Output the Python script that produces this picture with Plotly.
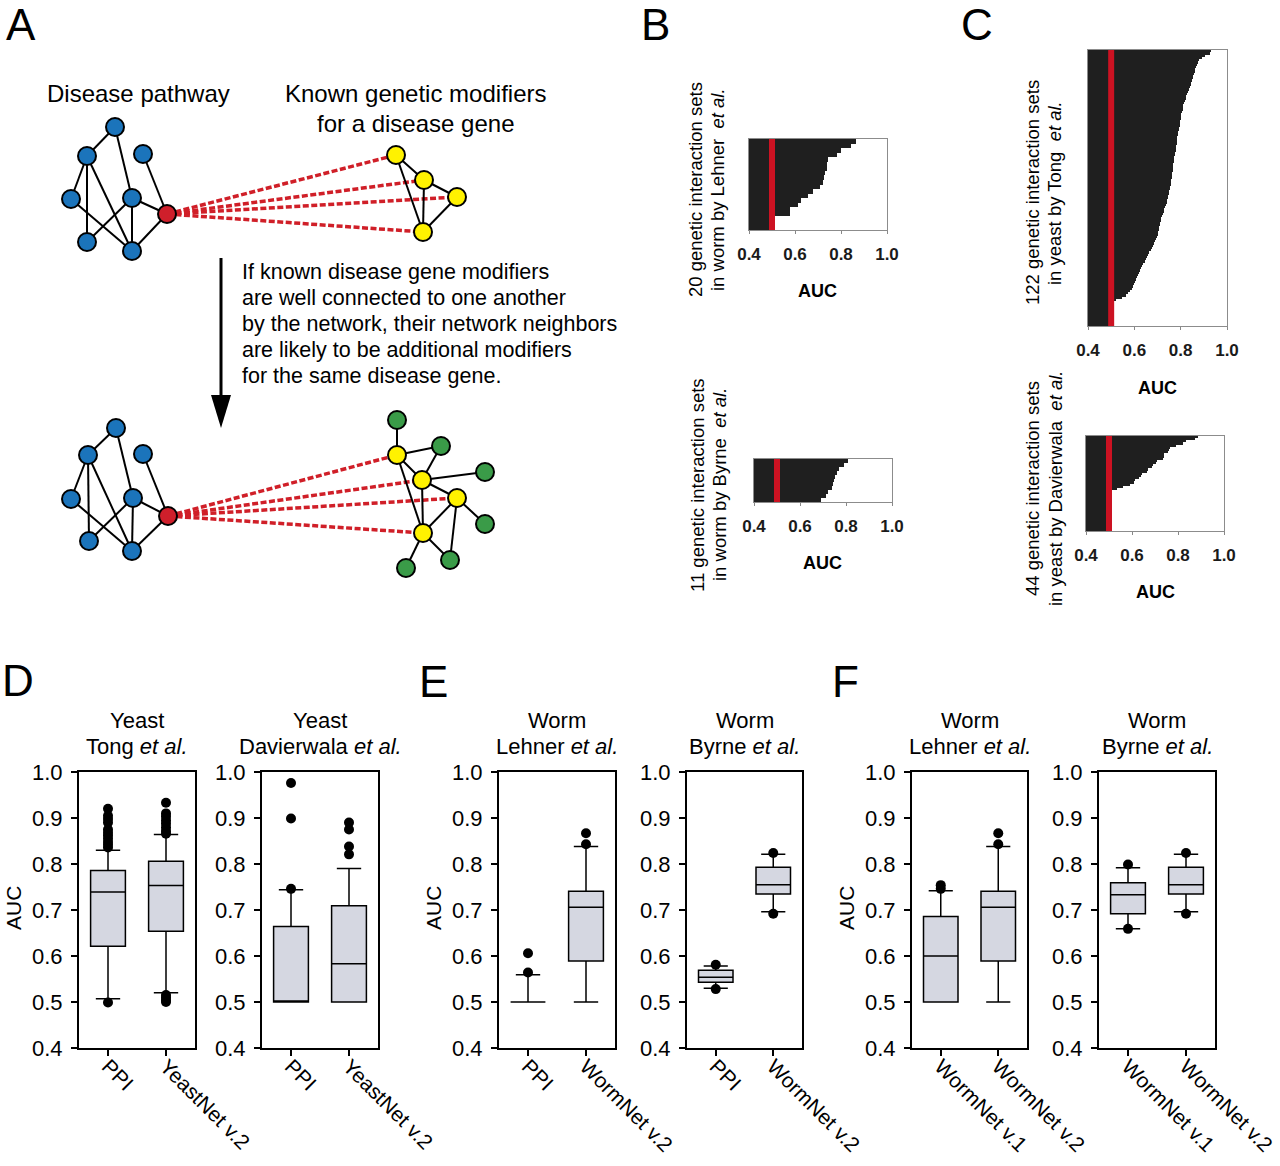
import plotly.graph_objects as go

FONT = "Liberation Sans, Arial, sans-serif"
W, H = 1280, 1166

# ---------------- Panel A: network diagram (node positions, px) ----------------
blue_top_x = [115, 87, 143, 71, 132, 87, 132]
blue_top_y = [127, 156, 154, 199, 198, 242, 251]
red_top_xy = [167, 214]
yellow_top_x = [396, 424, 457, 423]
yellow_top_y = [155, 180, 197, 232]

blue_bot_x = [116, 88, 143, 71, 133, 89, 132]
blue_bot_y = [428, 455, 454, 499, 498, 541, 551]
red_bot_xy = [168, 516]
yellow_bot_x = [397, 422, 457, 423]
yellow_bot_y = [455, 480, 498, 533]
green_bot_x = [397, 441, 485, 485, 450, 406]
green_bot_y = [420, 446, 472, 524, 560, 568]

pathway_edges = [("B0", "B1"), ("B0", "B4"), ("B2", "R"), ("B1", "B3"), ("B1", "B5"),
                 ("B1", "B6"), ("B3", "B6"), ("B4", "B5"), ("B4", "B6"), ("B4", "R"), ("B6", "R")]
modifier_edges_top = [("Y0", "Y1"), ("Y0", "Y3"), ("Y1", "Y2"), ("Y1", "Y3"), ("Y2", "Y3")]
modifier_edges_bot = [("Y0", "G0"), ("Y0", "G1"), ("Y0", "Y1"), ("Y0", "Y3"), ("Y1", "G1"),
                      ("Y1", "G2"), ("Y1", "Y2"), ("Y1", "Y3"), ("Y2", "Y3"), ("Y2", "G3"),
                      ("Y2", "G4"), ("Y3", "G4"), ("Y3", "G5")]

title_pathway = "Disease pathway"
title_modifiers = ["Known genetic modifiers", "for a disease gene"]
hypothesis_lines = ["If known disease gene modifiers",
                    "are well connected to one another",
                    "by the network, their network neighbors",
                    "are likely to be additional modifiers",
                    "for the same disease gene."]

# ---------------- Panels B, C: sorted AUC per interaction set ----------------
lehner_auc = [0.867, 0.845, 0.800, 0.784, 0.742, 0.741, 0.740, 0.730, 0.725, 0.720,
              0.707, 0.680, 0.656, 0.628, 0.613, 0.580, 0.578, 0.500, 0.500, 0.500]
byrne_auc = [0.809, 0.792, 0.769, 0.759, 0.752, 0.747, 0.744, 0.737, 0.722, 0.711, 0.690]
tong_auc = [0.930, 0.925, 0.905, 0.890, 0.880, 0.875, 0.870, 0.867, 0.864, 0.861,
            0.858, 0.855, 0.852, 0.849, 0.846, 0.843, 0.840, 0.836, 0.833, 0.829,
            0.825, 0.821, 0.818, 0.815, 0.812, 0.810, 0.808, 0.805, 0.803, 0.801,
            0.800, 0.798, 0.796, 0.795, 0.793, 0.791, 0.789, 0.788, 0.786, 0.785,
            0.783, 0.782, 0.781, 0.779, 0.778, 0.776, 0.775, 0.773, 0.772, 0.770,
            0.769, 0.767, 0.766, 0.765, 0.763, 0.762, 0.761, 0.759, 0.758, 0.757,
            0.755, 0.753, 0.751, 0.749, 0.747, 0.745, 0.742, 0.739, 0.736, 0.733,
            0.730, 0.727, 0.724, 0.720, 0.717, 0.715, 0.712, 0.710, 0.707, 0.705,
            0.702, 0.700, 0.697, 0.692, 0.688, 0.684, 0.680, 0.675, 0.670, 0.665,
            0.660, 0.655, 0.650, 0.645, 0.638, 0.633, 0.628, 0.625, 0.621, 0.617,
            0.612, 0.608, 0.604, 0.600, 0.595, 0.588, 0.580, 0.572, 0.565, 0.545,
            0.520, 0.500, 0.500, 0.500, 0.500, 0.500, 0.500, 0.500, 0.500, 0.500,
            0.500, 0.500]
davierwala_auc = [0.888, 0.873, 0.835, 0.820, 0.790, 0.765, 0.760, 0.758, 0.740, 0.738,
                  0.735, 0.710, 0.705, 0.690, 0.685, 0.670, 0.665, 0.645, 0.640, 0.630,
                  0.615, 0.610, 0.590, 0.560, 0.535, 0.500, 0.500, 0.500, 0.500, 0.500,
                  0.500, 0.500, 0.500, 0.500, 0.500, 0.500, 0.500, 0.500, 0.500, 0.500,
                  0.500, 0.500, 0.500, 0.500]
auc_ticks = [0.4, 0.6, 0.8, 1.0]
random_auc = 0.5

# ---------------- Panels D, E, F: box-plot statistics ----------------
# D: yeast, Tong et al.
tong_cats = ["PPI", "YeastNet v.2"]
tong_q1 = [0.621, 0.654]
tong_med = [0.739, 0.753]
tong_q3 = [0.786, 0.806]
tong_lo = [0.507, 0.520]
tong_hi = [0.830, 0.864]
tong_out_ppi = [0.920, 0.905, 0.898, 0.890, 0.875, 0.868, 0.862, 0.855, 0.848, 0.842, 0.836, 0.499]
tong_out_yn = [0.933, 0.910, 0.903, 0.895, 0.888, 0.880, 0.872, 0.866, 0.515, 0.510, 0.504, 0.500]
# D: yeast, Davierwala et al.
davi_cats = ["PPI", "YeastNet v.2"]
davi_q1 = [0.500, 0.500]
davi_med = [0.500, 0.583]
davi_q3 = [0.664, 0.709]
davi_lo = [0.500, 0.500]
davi_hi = [0.744, 0.790]
davi_out_ppi = [0.976, 0.899, 0.746]
davi_out_yn = [0.890, 0.875, 0.838, 0.821]
# E: worm, Lehner et al.
lehE_cats = ["PPI", "WormNet v.2"]
lehE_q1 = [0.500, 0.589]
lehE_med = [0.500, 0.706]
lehE_q3 = [0.500, 0.741]
lehE_lo = [0.500, 0.500]
lehE_hi = [0.559, 0.838]
lehE_out_ppi = [0.606, 0.564]
lehE_out_wn = [0.867, 0.843]
# E: worm, Byrne et al.
byrE_cats = ["PPI", "WormNet v.2"]
byrE_q1 = [0.543, 0.735]
byrE_med = [0.554, 0.755]
byrE_q3 = [0.569, 0.793]
byrE_lo = [0.530, 0.696]
byrE_hi = [0.578, 0.821]
byrE_out_ppi = [0.581, 0.528]
byrE_out_wn = [0.824, 0.692]
# F: worm, Lehner et al.
lehF_cats = ["WormNet v.1", "WormNet v.2"]
lehF_q1 = [0.500, 0.589]
lehF_med = [0.600, 0.706]
lehF_q3 = [0.686, 0.741]
lehF_lo = [0.500, 0.500]
lehF_hi = [0.742, 0.838]
lehF_out_v1 = [0.754, 0.746]
lehF_out_v2 = [0.867, 0.843]
# F: worm, Byrne et al.
byrF_cats = ["WormNet v.1", "WormNet v.2"]
byrF_q1 = [0.692, 0.735]
byrF_med = [0.733, 0.755]
byrF_q3 = [0.759, 0.793]
byrF_lo = [0.659, 0.696]
byrF_hi = [0.792, 0.821]
byrF_out_v1 = [0.799, 0.659]
byrF_out_v2 = [0.824, 0.692]
auc_box_ticks = [0.4, 0.5, 0.6, 0.7, 0.8, 0.9, 1.0]

# =============================== figure =====================================
fig = go.Figure()
layout = dict(template="none", width=W, height=H, margin=dict(l=0, r=0, t=0, b=0, pad=0),
              autosize=False, paper_bgcolor="white", plot_bgcolor="white", showlegend=False,
              bargap=0, font=dict(family=FONT, color="black"))
annotations = []
shapes = []
n_axes = [0]


def fx(x):
    return x / W


def fy(y):
    return 1 - y / H


def new_axes(x0, x1, ytop, ybot, xa, ya):
    n_axes[0] += 1
    s = "" if n_axes[0] == 1 else str(n_axes[0])
    xa = dict(xa, domain=[fx(x0), fx(x1)], anchor="y" + s, automargin=False)
    ya = dict(ya, domain=[fy(ybot), fy(ytop)], anchor="x" + s, automargin=False)
    layout["xaxis" + s] = xa
    layout["yaxis" + s] = ya
    return "x" + s, "y" + s


def ann(text, x, y, size, angle=0, xanchor="center", yanchor="middle", color="black"):
    annotations.append(dict(text=text, x=fx(x), y=fy(y), xref="paper", yref="paper",
                            showarrow=False, textangle=angle, xanchor=xanchor,
                            yanchor=yanchor, borderpad=0, borderwidth=0,
                            font=dict(family=FONT, size=size, color=color)))


# ---------------- Panel A ----------------
hidden = dict(visible=False, showgrid=False, zeroline=False)
ax, ay = new_axes(0, 640, 0, 600, dict(hidden, range=[0, 640]), dict(hidden, range=[600, 0]))


def node_table(bx, by, rxy, yx, yy, gx=None, gy=None):
    t = {"R": (rxy[0], rxy[1])}
    for i, (a, b) in enumerate(zip(bx, by)):
        t["B%d" % i] = (a, b)
    for i, (a, b) in enumerate(zip(yx, yy)):
        t["Y%d" % i] = (a, b)
    if gx:
        for i, (a, b) in enumerate(zip(gx, gy)):
            t["G%d" % i] = (a, b)
    return t


def edge_xy(tab, edges):
    xs, ys = [], []
    for a, b in edges:
        xs += [tab[a][0], tab[b][0], None]
        ys += [tab[a][1], tab[b][1], None]
    return xs, ys


def draw_network(tab, mod_edges, bx, by, rxy, yx, yy, gx=None, gy=None):
    # dashed red links from disease gene to known modifiers
    dx, dy = edge_xy(tab, [("R", "Y%d" % i) for i in range(len(yx))])
    fig.add_trace(go.Scatter(x=dx, y=dy, xaxis=ax, yaxis=ay, mode="lines",
                             line=dict(color="#d01f28", width=3.5, dash="6px,2.5px"),
                             hoverinfo="skip"))
    ex, ey = edge_xy(tab, pathway_edges + mod_edges)
    fig.add_trace(go.Scatter(x=ex, y=ey, xaxis=ax, yaxis=ay, mode="lines",
                             line=dict(color="black", width=2), hoverinfo="skip"))
    groups = [(bx, by, "#1b74bb"), ([rxy[0]], [rxy[1]], "#cf1f2b"), (yx, yy, "#fff200")]
    if gx:
        groups.append((gx, gy, "#3a9b48"))
    for xs, ys, col in groups:
        fig.add_trace(go.Scatter(x=xs, y=ys, xaxis=ax, yaxis=ay, mode="markers",
                                 marker=dict(size=18, color=col, line=dict(color="black", width=2)),
                                 hoverinfo="skip"))


top_tab = node_table(blue_top_x, blue_top_y, red_top_xy, yellow_top_x, yellow_top_y)
draw_network(top_tab, modifier_edges_top, blue_top_x, blue_top_y, red_top_xy,
             yellow_top_x, yellow_top_y)
bot_tab = node_table(blue_bot_x, blue_bot_y, red_bot_xy, yellow_bot_x, yellow_bot_y,
                     green_bot_x, green_bot_y)
draw_network(bot_tab, modifier_edges_bot, blue_bot_x, blue_bot_y, red_bot_xy,
             yellow_bot_x, yellow_bot_y, green_bot_x, green_bot_y)

# arrow
arrow_x, arrow_top, arrow_tip, head_len, head_w = 221, 258, 428, 33, 20
shapes.append(dict(type="line", xref=ax, yref=ay, x0=arrow_x, x1=arrow_x, y0=arrow_top,
                   y1=arrow_tip - head_len + 2, line=dict(color="black", width=3)))
shapes.append(dict(type="path", xref=ax, yref=ay, fillcolor="black", line=dict(width=0),
                   path="M %f,%f L %f,%f L %f,%f Z" % (arrow_x - head_w / 2, arrow_tip - head_len,
                                                       arrow_x + head_w / 2, arrow_tip - head_len,
                                                       arrow_x, arrow_tip)))

ann(title_pathway, 138, 93, 24)
ann(title_modifiers[0], 415, 93, 24)
ann(title_modifiers[1], 415, 123, 24)
for i, line in enumerate(hypothesis_lines):
    ann(line, 242, 272 + 26 * i, 21.5, xanchor="left")

# ---------------- Panels B, C ----------------
bar_panels = [
    (lehner_auc, (749, 887, 139, 230),
     ["20 genetic interaction sets", "in worm by Lehner  <i>et al.</i>"], (695, 717, 190), (817, 291)),
    (byrne_auc, (754, 892, 459, 502),
     ["11 genetic interaction sets", "in worm by Byrne  <i>et al.</i>"], (697, 719, 485), (822, 563)),
    (tong_auc, (1088, 1227, 50, 326),
     ["122 genetic interaction sets", "in yeast by Tong  <i>et al.</i>"], (1032, 1054, 193), (1157, 388)),
    (davierwala_auc, (1086, 1224, 436, 531),
     ["44 genetic interaction sets", "in yeast by Davierwala  <i>et al.</i>"], (1032, 1055, 489), (1155, 592)),
]
for vals, (x0, x1, yt, yb), ytitle, (tx1, tx2, ty), (aucx, aucy) in bar_panels:
    n = len(vals)
    xa = dict(range=[0.4, 1.0], tickvals=auc_ticks, ticktext=["<b>%.1f</b>" % t for t in auc_ticks],
              tickfont=dict(family=FONT, size=17, color="#1a1a1a"), ticks="outside", ticklen=3,
              tickcolor="#888", showline=True, linecolor="#8c8c8c", linewidth=1, mirror=True,
              showgrid=False, zeroline=False, ticklabelstandoff=6, ticklabeloverflow="allow")
    ya = dict(range=[n - 0.5, -0.5], showticklabels=False, ticks="", showline=True,
              linecolor="#8c8c8c", linewidth=1, mirror=True, showgrid=False, zeroline=False)
    bxr, byr = new_axes(x0, x1, yt, yb, xa, ya)
    fig.add_trace(go.Bar(x=vals, y=list(range(n)), orientation="h", xaxis=bxr, yaxis=byr,
                         marker=dict(color="#1f1f1f", line=dict(width=0)), width=1.0,
                         hoverinfo="skip"))
    fig.add_trace(go.Scatter(x=[random_auc, random_auc], y=[-0.5, n - 0.5], xaxis=bxr, yaxis=byr,
                             mode="lines", line=dict(color="#cc1222", width=6), hoverinfo="skip"))
    ann(ytitle[0], tx1, ty, 18.5, angle=-90)
    ann(ytitle[1], tx2, ty, 18.5, angle=-90)
    ann("<b>AUC</b>", aucx, aucy, 18)

# ---------------- Panels D, E, F ----------------
box_panels = [
    ((79, 195), ["Yeast", "Tong <i>et al.</i>"], tong_cats, tong_q1, tong_med, tong_q3, tong_lo,
     tong_hi, [tong_out_ppi, tong_out_yn]),
    ((262, 378), ["Yeast", "Davierwala <i>et al.</i>"], davi_cats, davi_q1, davi_med, davi_q3,
     davi_lo, davi_hi, [davi_out_ppi, davi_out_yn]),
    ((499, 615), ["Worm", "Lehner <i>et al.</i>"], lehE_cats, lehE_q1, lehE_med, lehE_q3, lehE_lo,
     lehE_hi, [lehE_out_ppi, lehE_out_wn]),
    ((687, 802), ["Worm", "Byrne <i>et al.</i>"], byrE_cats, byrE_q1, byrE_med, byrE_q3, byrE_lo,
     byrE_hi, [byrE_out_ppi, byrE_out_wn]),
    ((912, 1027), ["Worm", "Lehner <i>et al.</i>"], lehF_cats, lehF_q1, lehF_med, lehF_q3, lehF_lo,
     lehF_hi, [lehF_out_v1, lehF_out_v2]),
    ((1099, 1215), ["Worm", "Byrne <i>et al.</i>"], byrF_cats, byrF_q1, byrF_med, byrF_q3, byrF_lo,
     byrF_hi, [byrF_out_v1, byrF_out_v2]),
]
BOX_TOP, BOX_BOT = 772, 1048
for (x0, x1), title, cats, q1, med, q3, lo, hi, outs in box_panels:
    pos = list(range(len(cats)))
    xa = dict(range=[-0.5, len(cats) - 0.5], tickvals=pos, ticktext=cats, tickangle=45,
              tickfont=dict(family=FONT, size=21, color="black"), ticks="outside", ticklen=6,
              tickwidth=2, tickcolor="black", showline=True, linecolor="black", linewidth=2,
              mirror=True, showgrid=False, zeroline=False, ticklabelstandoff=-10,
              ticklabeloverflow="allow")
    ya = dict(range=[0.4, 1.0], tickvals=auc_box_ticks, ticktext=["%.1f" % t for t in auc_box_ticks],
              tickfont=dict(family=FONT, size=22, color="black"), ticks="outside", ticklen=6,
              tickwidth=2, tickcolor="black", showline=True, linecolor="black", linewidth=2,
              mirror=True, showgrid=False, zeroline=False, ticklabelstandoff=4,
              ticklabeloverflow="allow")
    bxr, byr = new_axes(x0, x1, BOX_TOP, BOX_BOT, xa, ya)
    fig.add_trace(go.Box(x=pos, q1=q1, median=med, q3=q3, lowerfence=lo, upperfence=hi,
                         xaxis=bxr, yaxis=byr, width=0.6, whiskerwidth=0.7,
                         fillcolor="#d5d7e1", line=dict(color="black", width=1.5),
                         boxpoints=False, hoverinfo="skip"))
    for p, o in zip(pos, outs):
        fig.add_trace(go.Scatter(x=[p] * len(o), y=o, xaxis=bxr, yaxis=byr, mode="markers",
                                 marker=dict(color="black", size=10), hoverinfo="skip"))
    cx = (x0 + x1) / 2
    ann(title[0], cx, 720, 22)
    ann(title[1], cx, 746, 22)

ann("AUC", 13, 908, 21, angle=-90)
ann("AUC", 433, 908, 21, angle=-90)
ann("AUC", 846, 908, 21, angle=-90)

# panel letters
for letter, x, y in [("A", 21, 0), ("B", 655, 0), ("C", 977, 0)]:
    ann(letter, x, y, 44, yanchor="top")
for letter, x, y in [("D", 18, 680), ("E", 433, 681), ("F", 845, 681)]:
    ann(letter, x, y, 44)

layout["annotations"] = annotations
layout["shapes"] = shapes
fig.update_layout(**layout)
fig.write_html("out.html", config={"displayModeBar": False, "staticPlot": True},
               post_script="document.body.style.margin='0';document.body.style.padding='0';"
                           "document.body.style.overflow='hidden';")
